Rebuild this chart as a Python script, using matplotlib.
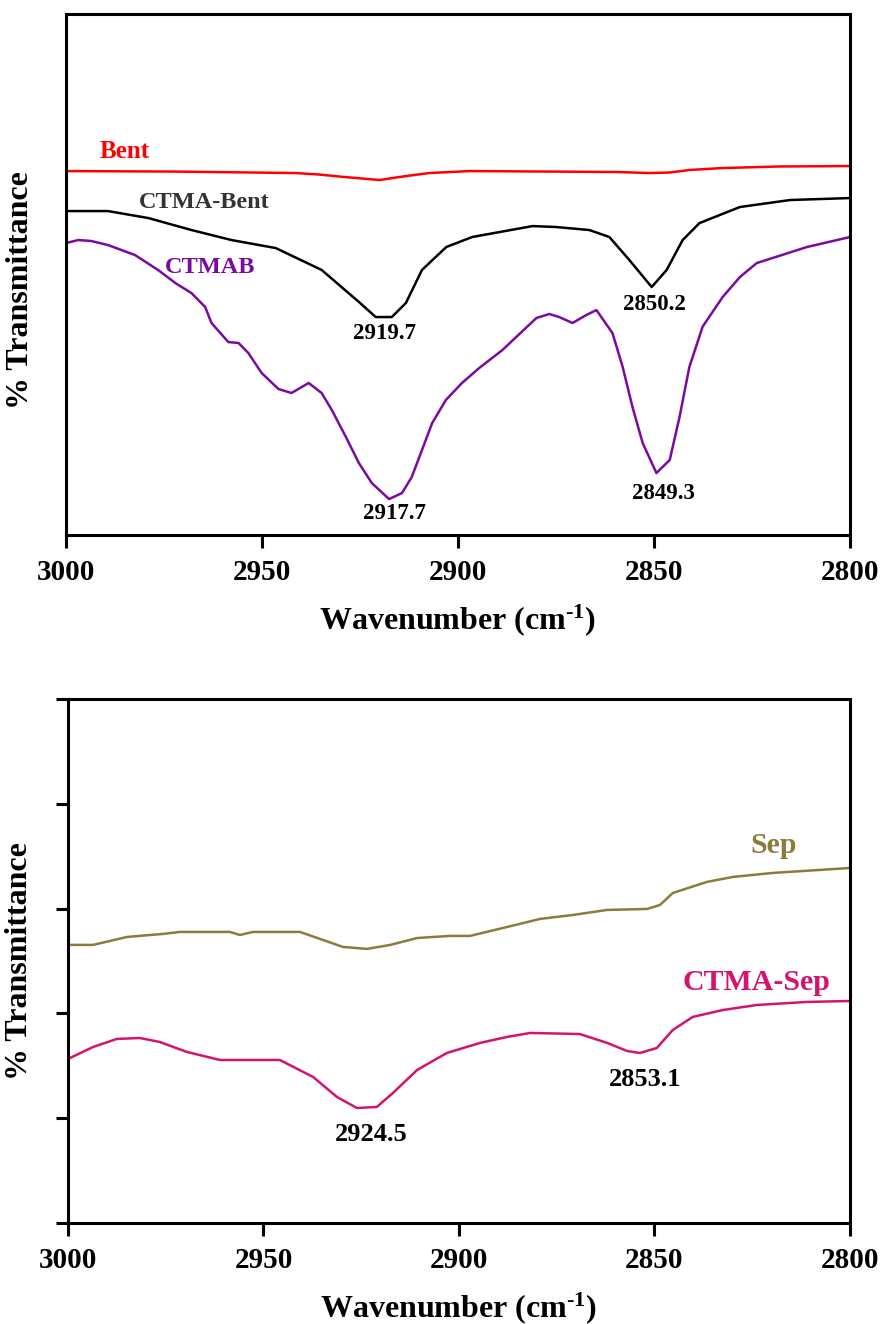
import numpy as np
import matplotlib
matplotlib.use('Agg')
import matplotlib.pyplot as plt

plt.rcParams['font.family'] = ['Liberation Serif', 'DejaVu Serif']
plt.rcParams['font.weight'] = 'bold'
plt.rcParams['mathtext.fontset'] = 'custom'
plt.rcParams['mathtext.rm'] = 'Liberation Serif:bold'
plt.rcParams['mathtext.bf'] = 'Liberation Serif:bold'
plt.rcParams['mathtext.it'] = 'Liberation Serif:bold:italic'

# ---- top panel: Bent / CTMA-Bent / CTMAB ----
bent_wn = [3000, 2972, 2941.4, 2935.5, 2929, 2920, 2915, 2907.4, 2897, 2859.6,
           2851, 2846, 2841, 2832.5, 2818, 2800]
bent_t = [3.493, 3.488, 3.474, 3.460, 3.436, 3.407, 3.436, 3.474, 3.493, 3.484,
          3.474, 3.479, 3.503, 3.522, 3.537, 3.541]

ctma_bent_wn = [3000, 2989.3, 2979, 2968, 2957.8, 2946.5, 2934.8, 2925.3, 2921,
                2916.9, 2913.3, 2909.2, 2903, 2896.4, 2881, 2875, 2866.5, 2861.4,
                2856.3, 2850.6, 2846.8, 2842.7, 2838.4, 2828.1, 2815.3, 2800]
ctma_bent_t = [3.109, 3.109, 3.042, 2.927, 2.831, 2.754, 2.544, 2.237, 2.092,
               2.092, 2.227, 2.544, 2.764, 2.860, 2.965, 2.956, 2.927, 2.860,
               2.639, 2.380, 2.543, 2.831, 2.994, 3.148, 3.215, 3.234]

ctmab_wn = [3000, 2996.9, 2993.6, 2989.3, 2982.4, 2976.5, 2972.1, 2968, 2964.5,
            2962.9, 2958.6, 2956, 2953.5, 2950.1, 2945.8, 2942.5, 2938.1, 2934.8,
            2932.2, 2928.6, 2925.3, 2922, 2917.6, 2914.3, 2911.8, 2909.2, 2906.6,
            2903.1, 2899, 2894.6, 2888.7, 2880, 2876.7, 2874.2, 2870.8, 2867.3,
            2864.7, 2860.6, 2858, 2855.5, 2852.9, 2849.4, 2846, 2843.5, 2841,
            2837.6, 2832.5, 2828.1, 2823.8, 2811, 2800]
ctmab_t = [2.802, 2.831, 2.822, 2.783, 2.687, 2.543, 2.418, 2.322, 2.188,
           2.035, 1.852, 1.843, 1.747, 1.555, 1.401, 1.363, 1.459, 1.363,
           1.200, 0.940, 0.691, 0.499, 0.345, 0.403, 0.557, 0.816, 1.075,
           1.296, 1.459, 1.603, 1.775, 2.083, 2.121, 2.092, 2.035, 2.111,
           2.159, 1.938, 1.612, 1.228, 0.883, 0.595, 0.720, 1.132, 1.612,
           2.000, 2.284, 2.476, 2.610, 2.764, 2.860]

# ---- bottom panel: Sep / CTMA-Sep ----
sep_wn = [3000, 2993.6, 2984.9, 2975.7, 2971.4, 2958.6, 2956, 2952.7, 2940.7,
          2935.5, 2929.7, 2923.5, 2917.6, 2910.7, 2902.3, 2897.2, 2887.7, 2879.3,
          2870.8, 2862.1, 2851.9, 2848.6, 2845.3, 2836.6, 2829.9, 2819.7, 2800]
sep_t = [2.653, 2.653, 2.729, 2.758, 2.777, 2.777, 2.748, 2.777, 2.777,
         2.710, 2.634, 2.615, 2.653, 2.719, 2.739, 2.739, 2.824, 2.901,
         2.939, 2.987, 2.996, 3.034, 3.149, 3.254, 3.302, 3.340, 3.387]

ctma_sep_wn = [3000, 2993.6, 2987.5, 2981.6, 2976.5, 2969.6, 2961.1, 2952.7, 2945.8,
               2937.3, 2931.2, 2926.1, 2921, 2916.9, 2910.7, 2903.1, 2894.6,
               2887.7, 2881.8, 2869.1, 2862.1, 2857, 2853.7, 2849.4,
               2845.3, 2840.2, 2832.5, 2823.8, 2811, 2800]
ctma_sep_t = [1.565, 1.679, 1.756, 1.765, 1.727, 1.632, 1.555, 1.555, 1.555,
              1.393, 1.202, 1.097, 1.107, 1.240, 1.460, 1.622, 1.718,
              1.775, 1.813, 1.803, 1.718, 1.641, 1.622, 1.670,
              1.842, 1.966, 2.032, 2.080, 2.109, 2.118]

x_ticks = [3000, 2950, 2900, 2850, 2800]

PURPLE = '#7a0aa0'
OLIVE = '#8c7b3c'
PINK = '#d4136e'


def style_axes(ax):
    for sp in ax.spines.values():
        sp.set_linewidth(2.2)
    ax.set_xlim(3000, 2800)
    ax.set_ylim(0, 5)
    ax.set_xticks(x_ticks)
    ax.tick_params(axis='x', direction='out', length=9, width=2.2,
                   labelsize=21, pad=8)
    ax.set_xlabel(r'Wavenumber (cm$^{\text{-1}}$)', fontsize=23, fontweight='bold',
                  labelpad=12)
    ax.set_ylabel('% Transmittance', fontsize=23, fontweight='bold')


def draw():
    fig = plt.figure(figsize=(8.84, 13.24), dpi=100)

    # top panel
    ax1 = fig.add_axes([0.0747, 0.5959, 0.8869, 0.3935])
    ax1.plot(bent_wn, bent_t, color='red', lw=1.8)
    ax1.plot(ctma_bent_wn, ctma_bent_t, color='black', lw=1.8)
    ax1.plot(ctmab_wn, ctmab_t, color=PURPLE, lw=1.8)
    style_axes(ax1)
    ax1.set_yticks([])
    ax1.yaxis.set_label_coords(-0.040, 0.47)
    ax1.text(2985, 3.68, 'Bent', color='red', fontsize=18, ha='center', va='center')
    ax1.text(2964.7, 3.19, 'CTMA-Bent', color='#333333', fontsize=17.5, ha='center', va='center')
    ax1.text(2963.2, 2.57, 'CTMAB', color=PURPLE, fontsize=17.5, ha='center', va='center')
    ax1.text(2918.7, 1.93, '2919.7', fontsize=16.5, ha='center', va='center')
    ax1.text(2849.9, 2.21, '2850.2', fontsize=16.5, ha='center', va='center')
    ax1.text(2916.2, 0.21, '2917.7', fontsize=16.5, ha='center', va='center')
    ax1.text(2847.5, 0.40, '2849.3', fontsize=16.5, ha='center', va='center')

    # bottom panel
    ax2 = fig.add_axes([0.0769, 0.0763, 0.8846, 0.3958])
    ax2.plot(sep_wn, sep_t, color=OLIVE, lw=1.8)
    ax2.plot(ctma_sep_wn, ctma_sep_t, color=PINK, lw=1.8)
    style_axes(ax2)
    ax2.set_yticks([0, 1, 2, 3, 4, 5])
    ax2.set_yticklabels([])
    ax2.tick_params(axis='y', direction='out', length=9, width=2.2)
    ax2.yaxis.set_label_coords(-0.043, 0.5)
    ax2.text(2819.5, 3.6, 'Sep', color=OLIVE, fontsize=21.5, ha='center', va='center')
    ax2.text(2824, 2.29, 'CTMA-Sep', color=PINK, fontsize=21.5, ha='center', va='center')
    ax2.text(2922.5, 0.84, '2924.5', fontsize=19, ha='center', va='center')
    ax2.text(2852.4, 1.37, '2853.1', fontsize=19, ha='center', va='center')

    fig.savefig('out.png', dpi=100)


if __name__ == "__main__":
    draw()
